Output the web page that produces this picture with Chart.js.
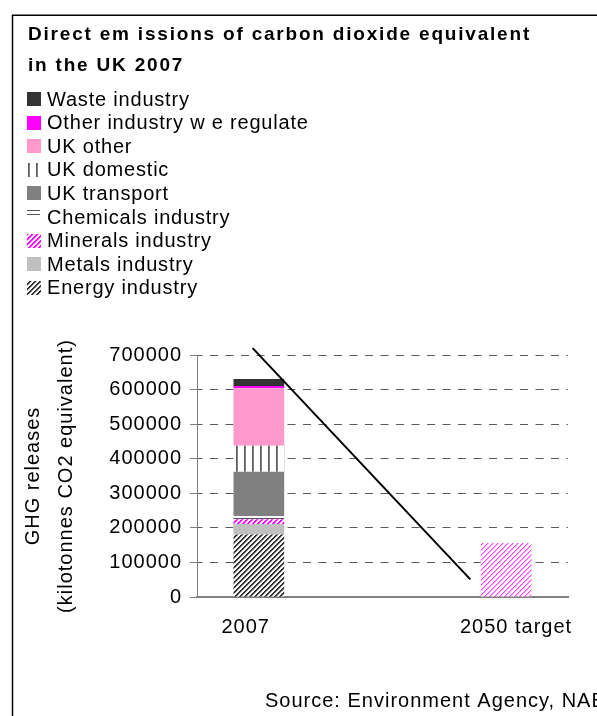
<!DOCTYPE html>
<html><head><meta charset="utf-8">
<script src="https://cdn.jsdelivr.net/npm/chart.js@4/dist/chart.umd.min.js"></script>
<style>html,body{margin:0;padding:0;background:#fff;overflow:hidden;width:597px;height:716px}canvas{display:block}</style>
</head><body>
<canvas id="c" width="640" height="716"></canvas>
<script>
// ---- data ----
const categories = ['2007', '', '2050 target'];
const energyIndustry    = [181000, null, null];
const metalsIndustry    = [30000, null, null];
const mineralsIndustry  = [14000, null, null];
const chemicalsIndustry = [9500, null, null];
const ukTransport       = [128000, null, null];
const ukDomestic        = [75000, null, null];
const ukOther           = [166000, null, null];
const otherIndustry     = [7000, null, null];
const wasteIndustry     = [20000, null, null];
const target2050        = [null, null, 156000];
const reductionLine     = [{x: -0.05, y: 720000}, {x: 1.71, y: 51000}];
const yTickValues = [0, 100000, 200000, 300000, 400000, 500000, 600000, 700000];
const titleLines = ['Direct em issions of carbon dioxide equivalent', 'in the UK 2007'];
const yTitleLines = ['GHG releases', '(kilotonnes CO2 equivalent)'];
const sourceText = 'Source: Environment Agency, NAEI';
const seriesNames = ['Energy industry', 'Metals industry', 'Minerals industry', 'Chemicals industry',
  'UK transport', 'UK domestic', 'UK other', 'Other industry w e regulate', 'Waste industry'];

const FONT = '"Liberation Sans", Arial, sans-serif';
const canvas = document.getElementById('c');
const mainCtx = canvas.getContext('2d');

function makePattern(w, h, paint) {
  const c = document.createElement('canvas'); c.width = w; c.height = h;
  const g = c.getContext('2d');
  g.fillStyle = '#fff'; g.fillRect(0, 0, w, h);
  for (let y = 0; y < h; y++) for (let x = 0; x < w; x++) {
    const col = paint(x, y);
    if (col) { g.fillStyle = col; g.fillRect(x, y, 1, 1); }
  }
  return mainCtx.createPattern(c, 'repeat');
}
const pEnergy = makePattern(5, 5, (x, y) => { const k = (x + y) % 5; return k < 2 ? '#333' : (k === 2 ? '#bbb' : null); });
const pMinerals = makePattern(5, 5, (x, y) => { const k = (x + y) % 5; return k < 2 ? '#ff00ff' : (k === 2 ? '#ff99ff' : null); });
const pTarget = makePattern(5, 5, (x, y) => { const k = (x + y) % 5; return k === 0 ? '#ff40ff' : (k === 1 ? '#ffa8ff' : null); });
const pChemicals = makePattern(4, 4, (x, y) => (y % 4 === 2 ? '#555' : null));
const pDomestic = makePattern(8, 8, (x, y) => (x === 4 ? '#5e5e5e' : (x === 5 ? '#808080' : null)));

const seriesData = [energyIndustry, metalsIndustry, mineralsIndustry, chemicalsIndustry,
  ukTransport, ukDomestic, ukOther, otherIndustry, wasteIndustry];
const seriesFill = [pEnergy, '#c0c0c0', pMinerals, pChemicals, '#808080', pDomestic, '#ff99cc', '#ff00ff', '#333333'];

const barSets = seriesData.map((d, i) => ({
  type: 'bar', label: seriesNames[i], data: d, backgroundColor: seriesFill[i],
  borderWidth: 0, order: 2, grouped: false, barPercentage: 0.41, categoryPercentage: 1.0
}));
barSets.push({type: 'bar', label: '2050 target', data: target2050, backgroundColor: pTarget,
  borderWidth: 0, order: 2, grouped: false, barPercentage: 0.41, categoryPercentage: 1.0});
barSets.push({type: 'line', label: 'trajectory', data: reductionLine, xAxisID: 'xl', stack: 'line',
  borderColor: '#000', borderWidth: 2, pointRadius: 0, clip: false, order: 0, fill: false});

const decor = {
  id: 'decor',
  beforeLayout(chart) { chart.ctx.letterSpacing = '1px'; },
  beforeDraw(chart) {
    const ctx = chart.ctx;
    ctx.save();
    ctx.fillStyle = '#fff';
    ctx.fillRect(0, 0, chart.width, chart.height);
    ctx.restore();
    ctx.letterSpacing = '1px';
  },
  afterDraw(chart) {
    const ctx = chart.ctx;
    ctx.save();
    // frame
    ctx.strokeStyle = '#000'; ctx.lineWidth = 1.5;
    ctx.beginPath(); ctx.moveTo(12.5, 800); ctx.lineTo(12.5, 15.2); ctx.lineTo(700, 15.2); ctx.stroke();
    // title
    ctx.fillStyle = '#000'; ctx.textBaseline = 'alphabetic'; ctx.textAlign = 'left';
    ctx.font = 'bold 19px ' + FONT; ctx.letterSpacing = '1.8px';
    ctx.fillText(titleLines[0], 28, 40);
    ctx.fillText(titleLines[1], 28, 70.5);
    // legend (top to bottom = reverse of stack order)
    ctx.font = '20px ' + FONT; ctx.letterSpacing = '0.8px';
    for (let i = 0; i < seriesNames.length; i++) {
      const si = seriesNames.length - 1 - i;
      const y0 = 92 + i * 23.6;
      ctx.fillStyle = seriesFill[si];
      if (si === 3) ctx.fillRect(27, 210, 13, 7);
      else ctx.fillRect(27, Math.round(y0), 14, 14);
      ctx.fillStyle = '#000';
      ctx.fillText(seriesNames[si], 47, y0 + 13.5);
    }
    // source
    ctx.letterSpacing = '1px';
    ctx.fillText(sourceText, 265, 706.5);
    ctx.restore();
  }
};

// Excel places the category labels slightly off-centre; emulate with padding spaces
const labelPad = ['\u00a0\u00a0\u00a0\u00a0', '', ''];
const labelLead = ['', '', '\u00a0\u00a0\u00a0'];

new Chart(canvas, {
  data: {labels: categories, datasets: barSets},
  options: {
    responsive: false, animation: false,
    layout: {padding: {top: 355, left: 12, right: 72, bottom: 0}},
    plugins: {legend: {display: false}, title: {display: false}, tooltip: {enabled: false}},
    scales: {
      x: {
        stacked: true, offset: true,
        grid: {display: false},
        border: {display: true, color: '#808080', width: 2},
        ticks: {color: '#000', font: {size: 20, family: FONT}, padding: 10, maxRotation: 0, autoSkip: false,
          callback: (v, i) => labelLead[i] + categories[i] + labelPad[i]},
        afterFit(s) { s.height = 119; }
      },
      xl: {type: 'linear', min: -0.5, max: 2.5, display: false},
      y: {
        stacked: true, min: 0, max: 700000,
        afterBuildTicks(s) { s.ticks = yTickValues.map(v => ({value: v})); },
        ticks: {color: '#000', font: {size: 20, family: FONT}, padding: 8, callback: v => String(v)},
        grid: {color: '#5a5a5a', tickColor: '#808080', tickLength: 7, tickBorderDash: [], lineWidth: 1},
        border: {display: true, color: '#808080', width: 1, dash: [8, 7.5], dashOffset: 3.5},
        title: {display: true, text: yTitleLines, color: '#000', font: {size: 20, family: FONT, lineHeight: 1.65}, padding: {top: 5, bottom: 0}},
        afterFit(s) { s.width = 185; }
      }
    }
  },
  plugins: [decor]
});
</script>
</body></html>
